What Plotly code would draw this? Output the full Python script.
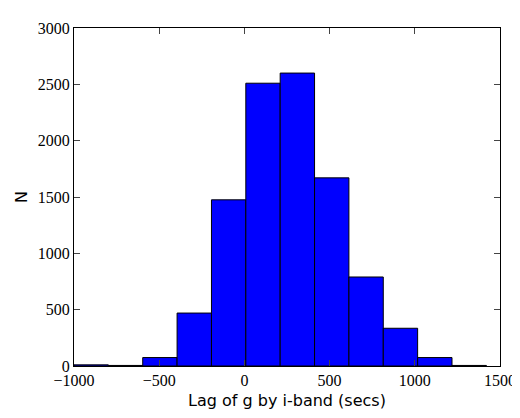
import numpy as np
import plotly.graph_objects as go

bin_edges = np.linspace(-1000, 1420, 13)
counts = [10, 5, 75, 470, 1475, 2510, 2600, 1670, 790, 335, 75, 5]

centers = (bin_edges[:-1] + bin_edges[1:]) / 2
width = bin_edges[1] - bin_edges[0]

fig = go.Figure()
fig.add_trace(go.Bar(x=centers, y=counts, width=width,
                     marker=dict(color="#0000ff", line=dict(color="black", width=1))))

axis_common = dict(showgrid=False, zeroline=False, showline=True, mirror="ticks",
                   linecolor="black", linewidth=1, ticks="inside", ticklen=6,
                   tickfont=dict(family="Liberation Serif", size=16, color="black"))

fig.update_layout(
    width=520, height=418,
    paper_bgcolor="white", plot_bgcolor="white",
    margin=dict(l=66, r=20, t=16, b=60),
    showlegend=False,
    xaxis=dict(range=[-1000, 1500], tickvals=[-1000, -500, 0, 500, 1000, 1500],
               title=dict(text="Lag of g by i-band (secs)", standoff=6,
                          font=dict(family="DejaVu Sans", size=16, color="black")),
               **axis_common),
    yaxis=dict(range=[0, 3000], tickvals=list(range(0, 3001, 500)),
               title=dict(text="N", standoff=6,
                          font=dict(family="DejaVu Sans", size=16, color="black")),
               **axis_common),
)

fig.write_html("out.html")
